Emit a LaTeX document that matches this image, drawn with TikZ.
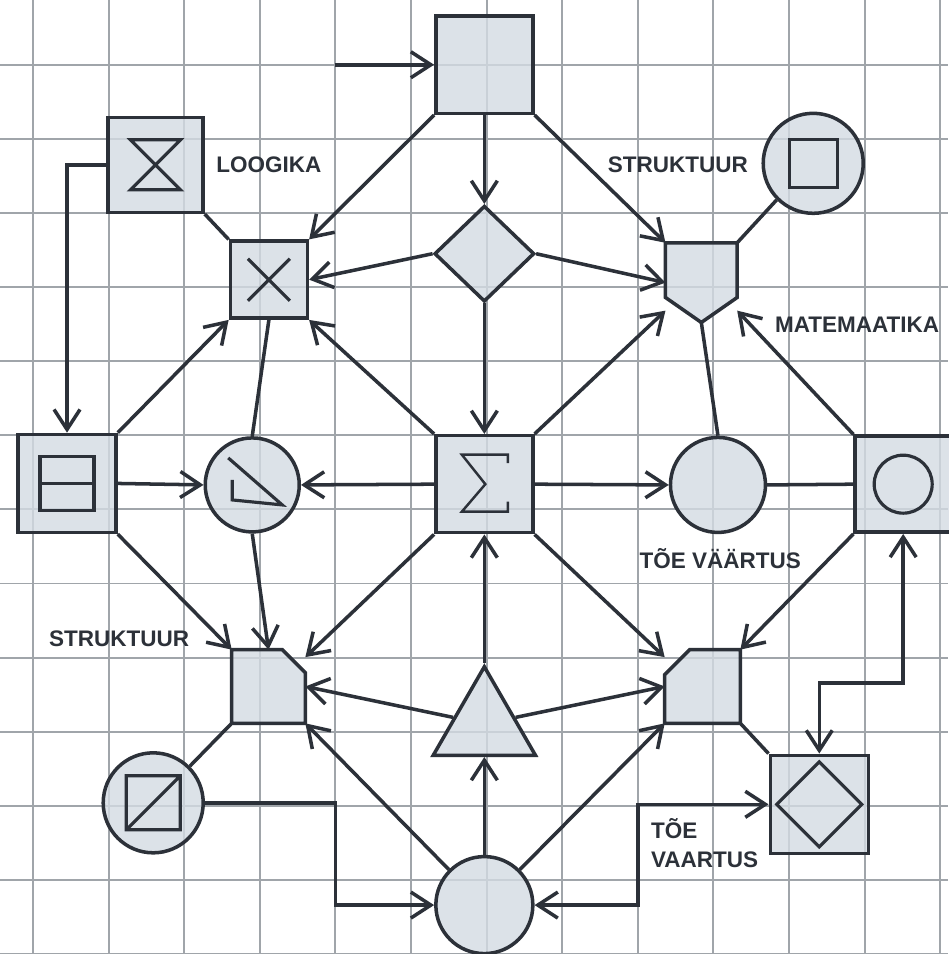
\documentclass[tikz,border=0pt]{standalone}
\usepackage{fontspec}
\setmainfont{Liberation Sans}
\usetikzlibrary{arrows.meta,shapes.geometric}

\definecolor{ink}{RGB}{44,49,57}
\definecolor{shade}{RGB}{212,219,227}
\definecolor{rule}{RGB}{160,165,170}

\begin{document}
\begin{tikzpicture}[x=1.512cm, y=1.482cm,
    >={Straight Barb[length=4mm,width=5.2mm]},
    shp/.style={draw=ink, line width=2pt, fill=shade, fill opacity=0.8, inner sep=0pt},
    sq/.style={shp, rectangle, minimum size=#1},
    rnd/.style={shp, circle, minimum size=#1},
    hold/.style={rectangle, inner sep=0pt},
    ln/.style={draw=ink, line width=2pt},
    arr/.style={ln, ->},
    sym/.style={draw=ink, line width=1.8pt},
    lbl/.style={text=ink, inner sep=0pt, font=\fontsize{12.8}{16.4}\selectfont\bfseries}]
    \fill[white] (-0.4365,0) rectangle (12.103,12.874);
    \useasboundingbox (-0.4365,0) rectangle (12.103,12.874);
    \draw[step=1, rule, line width=1.1pt] (-0.4365,0) grid (12.103,12.874);

    \node[sq=1.94cm] (top) at (5.97,12) {};
    \node[sq=1.9cm] (hour) at (1.62,10.65) {};
    \node[sq=1.54cm] (cross) at (3.12,9.10) {};
    \node[shp, diamond, minimum width=2cm, minimum height=1.92cm] (dia) at (5.97,9.45) {};
    \node[hold, minimum width=1.42cm, minimum height=1.58cm] (shield) at (8.84,9.06) {};
    \node[rnd=2cm] (ringsq) at (10.32,10.67) {};
    \node[sq=1.96cm] (split) at (0.45,6.35) {};
    \node[rnd=1.88cm] (angle) at (2.90,6.33) {};
    \node[sq=1.94cm] (sigma) at (5.97,6.34) {};
    \node[rnd=1.9cm] (truth) at (9.06,6.33) {};
    \node[sq=1.92cm] (ringbox) at (11.51,6.34) {};
    \node[hold, minimum size=1.46cm] (cutl) at (3.115,3.61) {};
    \node[hold, minimum width=1.5cm, minimum height=1.46cm] (cutr) at (8.856,3.61) {};
    \node[shp, regular polygon, regular polygon sides=3, minimum size=2.36cm] (tri) at (5.97,3.08) {};
    \node[rnd=2cm] (slash) at (1.59,2.04) {};
    \node[rnd=1.94cm] (bottom) at (5.97,0.66) {};
    \node[sq=1.96cm] (diabox) at (10.40,2.02) {};

    % cut shapes
    \path[shp] (shield.north west) -- (shield.north east) -- ([yshift=0.5cm]shield.south east)
        -- (shield.south) -- ([yshift=0.5cm]shield.south west) -- cycle;
    \path[shp] (cutl.north west) -- ([xshift=-0.46cm]cutl.north east) -- ([yshift=-0.46cm]cutl.north east)
        -- (cutl.south east) -- (cutl.south west) -- cycle;
    \path[shp] ([xshift=0.5cm]cutr.north west) -- (cutr.north east) -- (cutr.south east)
        -- (cutr.south west) -- ([yshift=-0.5cm]cutr.north west) -- cycle;

    \draw[sym, shift={(hour.center)}] (-0.5cm,0.5cm) -- (0.5cm,0.5cm) -- (-0.5cm,-0.5cm) -- (0.5cm,-0.5cm) -- cycle;
    \draw[sym, shift={(cross.center)}] (-0.42cm,0.42cm) -- (0.42cm,-0.42cm) (-0.42cm,-0.42cm) -- (0.42cm,0.42cm);
    \draw[sym, shift={(ringsq.center)}] (-0.48cm,-0.48cm) rectangle (0.48cm,0.48cm);
    \draw[sym, shift={(split.center)}] (-0.54cm,-0.54cm) rectangle (0.54cm,0.54cm) (-0.54cm,0) -- (0.54cm,0);
    \draw[sym, shift={(angle.center)}] (-0.48cm,0.54cm) -- (0.6cm,-0.4cm) -- (-0.4cm,-0.3cm) -- (-0.4cm,0.1cm);
    \draw[sym, line width=1.4pt, shift={(sigma.center)}] (0.47cm,0.42cm) -- (0.47cm,0.59cm) -- (-0.45cm,0.59cm)
        -- (0.02cm,0) -- (-0.45cm,-0.55cm) -- (0.47cm,-0.55cm) -- (0.47cm,-0.35cm);
    \draw[sym, shift={(ringbox.center)}] (0,0) circle (0.58cm);
    \draw[sym, shift={(slash.center)}] (-0.54cm,-0.54cm) rectangle (0.54cm,0.54cm) (-0.54cm,-0.54cm) -- (0.54cm,0.54cm);
    \draw[sym, shift={(diabox.center)}] (-0.85cm,0) -- (0,0.85cm) -- (0.85cm,0) -- (0,-0.85cm) -- cycle;

    \coordinate (feed) at (4,12);
    \draw[arr] (feed) -- (top.west);
    \draw[arr] (hour.west) -| (split.north);
    \draw[ln] (hour.south east) -- (cross.north west);
    \draw[arr] (top.south west) -- (cross.north east);
    \draw[arr] (top.south) -- (dia.north);
    \draw[arr] (top.south east) -- (shield.north west);
    \draw[arr] (dia.west) -- (cross.east);
    \draw[arr] (dia.east) -- (shield.west);
    \draw[arr] (dia.south) -- (sigma.north);
    \draw[ln] (shield.north east) -- (ringsq.-135);
    \draw[ln] (shield.south) -- (truth.north);
    \draw[arr] (split.north east) -- (cross.south west);
    \draw[arr] (sigma.north west) -- (cross.south east);
    \draw[ln] (cross.south) -- (angle.north);
    \draw[arr] (sigma.north east) -- (shield.-142);
    \draw[arr] (ringbox.north west) -- (shield.-38);
    \draw[arr] (split.east) -- (angle.west);
    \draw[arr] (sigma.west) -- (angle.east);
    \draw[arr] (sigma.east) -- (truth.west);
    \draw[ln] (truth.east) -- (ringbox.west);
    \draw[arr] (split.south east) -- (cutl.north west);
    \draw[arr] (angle.south) -- (cutl.north);
    \draw[arr] (sigma.south west) -- ([yshift=-0.15cm]cutl.north east);
    \draw[arr] (sigma.south east) -- ([yshift=-0.15cm]cutr.north west);
    \draw[arr] (ringbox.south west) -- (cutr.north east);
    \draw[arr] (tri.north) -- (sigma.south);
    \draw[arr] (tri.165) -- (cutl.east);
    \draw[arr] (tri.15) -- (cutr.west);
    \draw[arr] (bottom.north) -- (tri.south);
    \draw[arr] (bottom.north west) -- (cutl.south east);
    \draw[arr] (bottom.north east) -- (cutr.south west);
    \draw[ln] (cutl.south west) -- (slash.north east);
    \draw[ln] (cutr.south east) -- (diabox.north west);
    \coordinate (slashbend) at (4,2.04);
    \draw[arr] (slash.east) -- (slashbend) |- (bottom.west);
    \coordinate (truthbend) at (8,2.02);
    \draw[ln, <->] (bottom.east) -| (truthbend) -- (diabox.west);
    \coordinate (boxbend) at (10.40,3.66);
    \draw[ln, <->] (ringbox.south) |- (boxbend) -- (diabox.north);

    \node[lbl] (logic) at (3.12,10.65) {LOOGIKA};
    \node[lbl] (structa) at (8.53,10.65) {STRUKTUUR};
    \node[lbl] (maths) at (10.90,8.49) {MATEMAATIKA};
    \node[lbl] (trutha) at (9.09,5.34) {TÕE VÄÄRTUS};
    \node[lbl] (structb) at (1.14,4.26) {STRUKTUUR};
    \node[lbl, anchor=west, align=left] (truthb) at (8.17,1.50) {TÕE\\VAARTUS};
\end{tikzpicture}
\end{document}
